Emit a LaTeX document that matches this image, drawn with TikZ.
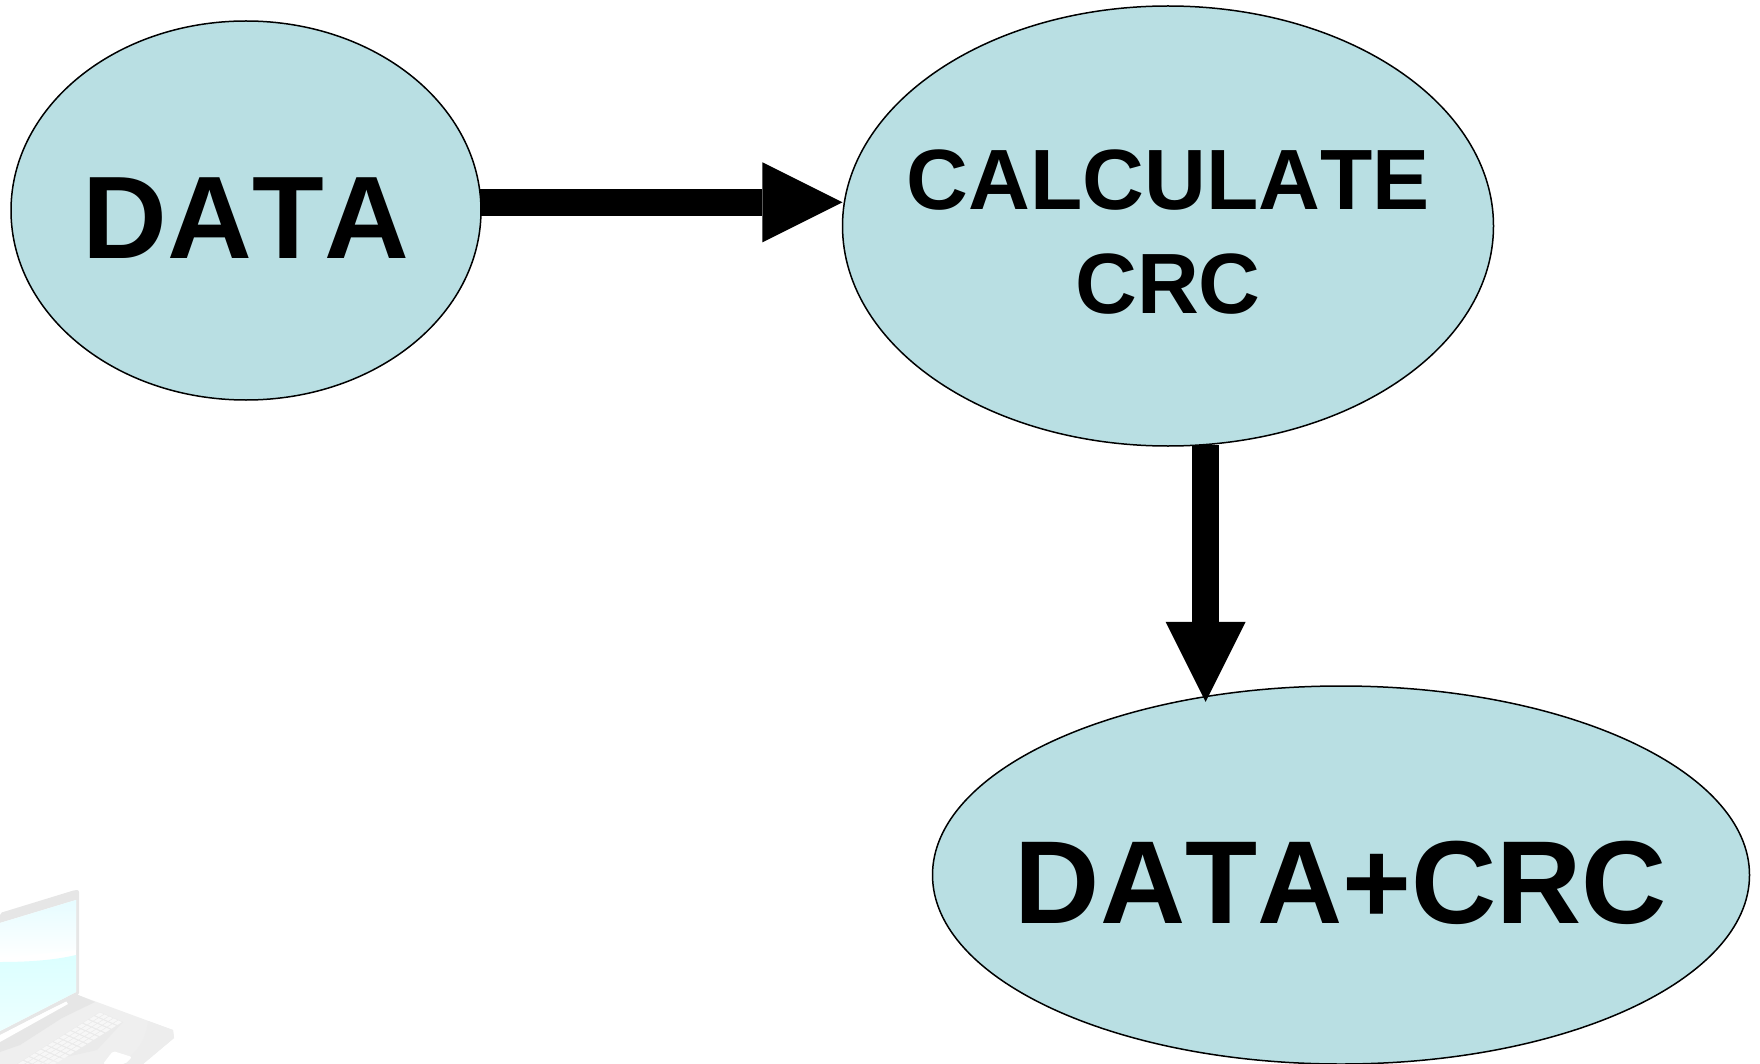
\documentclass[tikz,border=0pt]{standalone}
\usepackage{fontspec}
\setmainfont[Kerning=Off]{Liberation Sans}
\usepackage{tikz}
\usetikzlibrary{arrows.meta,shapes.geometric}

\definecolor{bubble}{HTML}{B9DFE3}
\definecolor{lapgray}{HTML}{E6E6E6}
\definecolor{lapbase}{HTML}{EFEFEF}
\definecolor{lapkey}{HTML}{F7F7F7}

\begin{document}
\begin{tikzpicture}[
  x=0.5pt, y=-0.5pt,
  bubblenode/.style={ellipse, draw, line width=0.75pt, fill=bubble, inner sep=0pt, align=center, font=\bfseries},
  bigarrow/.style={line width=13.35pt, -{Triangle[length=40pt, width=40pt, line width=0pt]}}
]
\useasboundingbox (0,0) rectangle (1760,1064);

% laptop (faded, bottom left)
\fill[lapbase] (78,995) -- (173,1030) -- (174,1038) -- (143,1064) -- (0,1064) -- (0,1030) -- cycle;
\fill[lapgray] (78,995) -- (95,1002) -- (62,1018) -- (20,1045) -- (0,1052) -- (0,1032) -- cycle;
\fill[white] (0,1035) -- (66,1001) -- (68,1004) -- (0,1042) -- cycle;
\fill[lapgray!70!white] (148,1021) .. controls (146,1040) and (138,1052) .. (120,1064) -- (143,1064) -- (174,1038) -- (173,1030) -- cycle;
\fill[lapgray, rounded corners=1pt] (0,913) -- (75,890) -- (79,890) -- (79,995) -- (0,1034) -- cycle;
\fill[white] (0,923) -- (76,900) -- (76,992) -- (0,1031) -- cycle;
\shade[top color=blue!12!cyan!10!white, bottom color=white] (0,923) -- (76,900) -- (76,950) -- (0,958) -- cycle;
\shade[top color=cyan!14!white, bottom color=cyan!7!white] (0,962) .. controls (30,962) and (55,960) .. (76,955) -- (76,992) -- (0,1031) -- cycle;

% keyboard
\fill[lapgray!85!white] (100,1012) -- (123,1022) -- (97,1050) -- (35,1064) -- (17,1064) -- cycle;
\foreach \i in {0,...,13}
  \foreach \j in {0,...,4}
    \fill[lapkey] ({100-83*(\i+.08)/14+23*(\j+.08)/5},{1012+52*(\i+.08)/14+10*(\j+.08)/5})
      -- ++(-4.6,2.9) -- ++(3.7,1.6) -- ++(4.6,-2.9) -- cycle;
\fill[white, rounded corners=1pt] (113,1051) -- (132,1057) -- (125,1064) -- (103,1064) -- cycle;

% bubbles
\node[bubblenode, minimum width=235pt, minimum height=189.5pt, text height=48pt, text depth=0pt, font=\bfseries\fontsize{58.7}{60}\selectfont] (data) at (246,210.5) {\makebox[0pt]{DATA}};
\node[bubblenode, minimum width=325.5pt, minimum height=220pt, font=\bfseries\fontsize{42.8}{52}\selectfont] (calc) at (1168,226) {\rule{0pt}{36pt}\makebox[0pt]{CALCULATE}\\\makebox[0pt]{CRC}};
\node[bubblenode, minimum width=408.5pt, minimum height=189pt, text height=48pt, text depth=0pt, font=\bfseries\fontsize{59}{60}\selectfont] (crc) at (1341,875) {\makebox[0pt]{DATA+CRC}};

% arrows
\coordinate (calcout) at ([xshift=-0.5pt]calc.280);
\draw[bigarrow, shorten <=-1pt, shorten >=0.5pt] (data.2.2) -- (data.2.2 -| calc.176);
\draw[bigarrow, shorten >=-3pt] (calcout) -- (calcout |- crc.127);
\end{tikzpicture}
\end{document}
